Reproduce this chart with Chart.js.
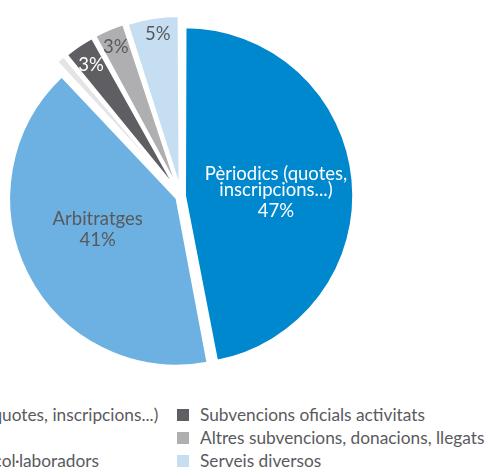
<!DOCTYPE html>
<html><head><meta charset="utf-8">
<script src="https://cdn.jsdelivr.net/npm/chart.js@4"></script>
<style>
html,body{margin:0;padding:0;background:#fff;overflow:hidden;width:487px;height:468px;}
#wrap{position:absolute;left:-120px;top:0;width:607px;height:390px;}
#legend{position:absolute;left:-108px;top:403px;display:grid;grid-auto-flow:column;grid-template-rows:repeat(3,23px);grid-template-columns:285px auto;font-family:Lato,sans-serif;font-size:17.3px;color:#5a5a5e;}
.item{display:flex;align-items:center;white-space:nowrap;height:23px}
.box{width:12px;height:12px;margin-right:11px;flex:none}
</style></head><body>
<div id="wrap"><canvas id="c"></canvas></div>
<div id="legend"></div>
<script>
const categories = ['Pèriodics (quotes, inscripcions...)', 'Arbitratges', 'Patrocinis col·laboradors', 'Subvencions oficials activitats', 'Altres subvencions, donacions, llegats', 'Serveis diversos'];
const values = [47, 41, 1, 3, 3, 5];
const sliceNames = [['Pèriodics (quotes,', 'inscripcions...)'], ['Arbitratges'], [], [], [], []];

const sliceColors = ['#0088ce', '#6cb1e1', '#e3e4e6', '#5f5f63', '#afafb2', '#c6def2'];
const labelColors = ['#ffffff', '#59595c', '#59595c', '#ffffff', '#59595c', '#59595c'];
const sliceOffsets = [16, 20, 36, 36, 36, 36];
const labelNudge = [[3, 5], [-1, -8], [0, 0], [1, 3], [-1, -1], [2, -2]];

const total = values.reduce((a, b) => a + b, 0);

const sliceLabels = {
  id: 'sliceLabels',
  afterDatasetsDraw(chart) {
    const ctx = chart.ctx;
    const meta = chart.getDatasetMeta(0);
    ctx.save();
    ctx.font = '18.5px Lato, sans-serif';
    ctx.textAlign = 'center';
    ctx.textBaseline = 'middle';
    meta.data.forEach((arc, i) => {
      const share = values[i] / total;
      const pct = Math.round(share * 100);
      if (pct < 2) return;
      const p = arc.getProps(['x', 'y', 'startAngle', 'endAngle', 'outerRadius'], true);
      const mid = (p.startAngle + p.endAngle) / 2;
      const big = share > 0.2;
      const d = big ? 0.56 * p.outerRadius : 0.98 * p.outerRadius;
      const cx = p.x + Math.cos(mid) * d + labelNudge[i][0];
      const cy = p.y + Math.sin(mid) * d + labelNudge[i][1];
      const lines = sliceNames[i].slice();
      const namePitch = 16, pctGap = 21;
      const h = lines.length ? (lines.length - 1) * namePitch + pctGap : 0;
      let y = cy - h / 2;
      ctx.fillStyle = labelColors[i];
      lines.forEach(t => { ctx.fillText(t, cx, y); y += namePitch; });
      if (lines.length) y += pctGap - namePitch;
      ctx.fillText(pct + '%', cx, y);
    });
    ctx.restore();
  }
};

const htmlLegend = {
  id: 'htmlLegend',
  afterUpdate(chart) {
    const el = document.getElementById('legend');
    el.innerHTML = '';
    const items = chart.options.plugins.legend.labels.generateLabels(chart);
    items.forEach(it => {
      const d = document.createElement('div');
      d.className = 'item';
      const b = document.createElement('span');
      b.className = 'box';
      b.style.background = it.fillStyle;
      const t = document.createElement('span');
      t.textContent = it.text;
      d.appendChild(b); d.appendChild(t);
      el.appendChild(d);
    });
  }
};

new Chart(document.getElementById('c'), {
  type: 'pie',
  data: {
    labels: categories,
    datasets: [{
      data: values,
      backgroundColor: sliceColors,
      borderColor: '#ffffff',
      borderWidth: 2,
      offset: sliceOffsets,
      hoverOffset: 0,
      radius: 165
    }]
  },
  options: {
    responsive: true,
    maintainAspectRatio: false,
    animation: false,
    events: [],
    layout: { padding: { right: 5, top: 2 } },
    plugins: { legend: { display: false }, tooltip: { enabled: false } }
  },
  plugins: [sliceLabels, htmlLegend]
});
</script>
</body></html>
